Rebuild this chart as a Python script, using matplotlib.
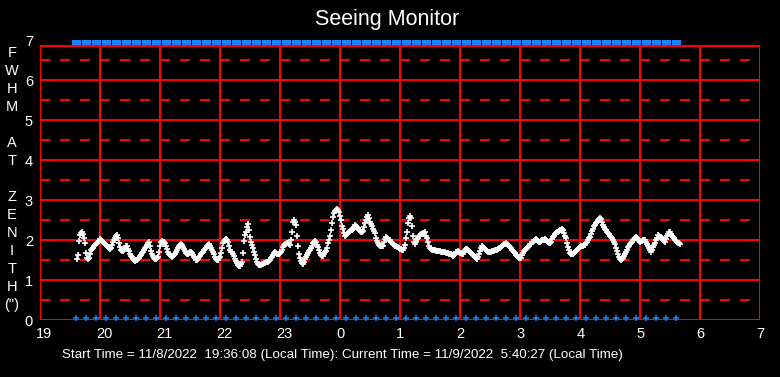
import numpy as np
import matplotlib
matplotlib.use("Agg")
import matplotlib.pyplot as plt
from matplotlib.transforms import ScaledTranslation
from matplotlib.path import Path

plt.rcParams['font.family'] = ['Liberation Sans', 'DejaVu Sans']
plt.rcParams['lines.scale_dashes'] = False

# ---- data ----
start_minute = 37          # minutes after 19:00 of the first white sample (1-minute cadence)
fwhm = [
 1.52, 1.62, 1.97, 2.12, 2.17, 2.2, 2.15, 2.05, 1.93, 1.68, 1.55, 1.52, 1.55, 1.65, 1.75, 1.78,
 1.8, 1.84, 1.87, 1.89, 1.92, 1.95, 1.98, 2.02, 2.0, 1.98, 1.95, 1.92, 1.9, 1.87, 1.85, 1.82,
 1.79, 1.77, 1.8, 1.88, 1.95, 2.0, 2.05, 2.1, 2.12, 2.05, 1.92, 1.83, 1.76, 1.73, 1.72, 1.74,
 1.8, 1.85, 1.86, 1.78, 1.72, 1.66, 1.61, 1.57, 1.53, 1.5, 1.48, 1.49, 1.5, 1.52, 1.56, 1.6,
 1.63, 1.67, 1.71, 1.75, 1.79, 1.83, 1.88, 1.93, 1.96, 1.85, 1.73, 1.65, 1.6, 1.55, 1.52, 1.53,
 1.55, 1.58, 1.7, 1.85, 1.95, 1.97, 1.96, 1.94, 1.92, 1.85, 1.77, 1.71, 1.66, 1.62, 1.59, 1.58,
 1.6, 1.63, 1.66, 1.7, 1.75, 1.8, 1.84, 1.87, 1.89, 1.88, 1.82, 1.77, 1.73, 1.68, 1.66, 1.64,
 1.67, 1.7, 1.71, 1.68, 1.63, 1.58, 1.54, 1.51, 1.5, 1.53, 1.57, 1.61, 1.64, 1.68, 1.71, 1.75,
 1.78, 1.81, 1.84, 1.87, 1.89, 1.85, 1.8, 1.75, 1.7, 1.64, 1.57, 1.52, 1.49, 1.5, 1.54, 1.58,
 1.67, 1.8, 1.92, 1.97, 2.0, 2.02, 2.0, 1.96, 1.85, 1.75, 1.71, 1.69, 1.66, 1.6, 1.53, 1.47,
 1.42, 1.38, 1.35, 1.36, 1.4, 1.44, 1.68, 1.97, 2.12, 2.2, 2.33, 2.4, 2.25, 2.07, 1.95, 1.88,
 1.79, 1.7, 1.62, 1.52, 1.46, 1.4, 1.37, 1.37, 1.38, 1.39, 1.41, 1.42, 1.43, 1.44, 1.45, 1.46,
 1.48, 1.5, 1.54, 1.58, 1.62, 1.67, 1.71, 1.68, 1.66, 1.65, 1.66, 1.67, 1.7, 1.76, 1.82, 1.87,
 1.89, 1.91, 1.92, 1.93, 1.9, 1.88, 2.0, 2.19, 2.45, 2.5, 2.45, 2.38, 2.1, 1.85, 1.65, 1.55,
 1.47, 1.42, 1.4, 1.46, 1.52, 1.58, 1.63, 1.68, 1.72, 1.76, 1.8, 1.86, 1.92, 1.95, 1.97, 1.96,
 1.88, 1.82, 1.74, 1.67, 1.62, 1.6, 1.6, 1.65, 1.69, 1.73, 1.8, 1.92, 2.0, 2.1, 2.25, 2.42,
 2.58, 2.67, 2.72, 2.76, 2.77, 2.74, 2.7, 2.6, 2.5, 2.35, 2.27, 2.17, 2.1, 2.12, 2.15, 2.17,
 2.2, 2.22, 2.24, 2.25, 2.27, 2.33, 2.37, 2.35, 2.32, 2.29, 2.26, 2.22, 2.2, 2.19, 2.22, 2.32,
 2.42, 2.5, 2.58, 2.63, 2.55, 2.46, 2.4, 2.34, 2.28, 2.22, 2.17, 2.05, 1.97, 1.92, 1.88, 1.85,
 1.84, 1.84, 1.85, 1.95, 2.02, 2.08, 2.06, 2.03, 2.0, 1.99, 1.96, 1.93, 1.9, 1.88, 1.86, 1.84,
 1.83, 1.82, 1.8, 1.78, 1.77, 1.76, 1.75, 1.8, 1.88, 2.05, 2.2, 2.42, 2.55, 2.6, 2.55, 2.35,
 2.1, 1.95, 1.9, 1.95, 2.02, 2.06, 2.09, 2.12, 2.14, 2.16, 2.17, 2.18, 2.2, 2.1, 2.04, 1.94,
 1.86, 1.8, 1.78, 1.76, 1.75, 1.74, 1.74, 1.73, 1.73, 1.72, 1.72, 1.72, 1.71, 1.7, 1.7, 1.69,
 1.69, 1.68, 1.68, 1.67, 1.66, 1.65, 1.64, 1.62, 1.6, 1.62, 1.66, 1.69, 1.71, 1.72, 1.7, 1.68,
 1.67, 1.65, 1.64, 1.7, 1.75, 1.78, 1.77, 1.74, 1.72, 1.7, 1.68, 1.66, 1.63, 1.6, 1.57, 1.54,
 1.53, 1.58, 1.65, 1.72, 1.8, 1.84, 1.83, 1.8, 1.77, 1.75, 1.73, 1.71, 1.7, 1.7, 1.71, 1.72,
 1.72, 1.73, 1.74, 1.74, 1.75, 1.77, 1.79, 1.81, 1.83, 1.85, 1.87, 1.89, 1.91, 1.93, 1.9, 1.87,
 1.85, 1.82, 1.79, 1.76, 1.73, 1.7, 1.67, 1.63, 1.6, 1.58, 1.56, 1.55, 1.56, 1.62, 1.68, 1.72,
 1.75, 1.78, 1.81, 1.83, 1.86, 1.89, 1.91, 1.94, 1.96, 1.98, 2.01, 2.03, 2.0, 1.98, 1.96, 1.95,
 1.97, 1.99, 2.0, 2.01, 2.02, 2.0, 1.97, 1.95, 1.93, 1.92, 1.96, 2.02, 2.07, 2.11, 2.14, 2.17,
 2.19, 2.21, 2.23, 2.25, 2.26, 2.27, 2.25, 2.18, 2.1, 2.04, 1.93, 1.83, 1.74, 1.68, 1.65, 1.64,
 1.65, 1.67, 1.69, 1.72, 1.75, 1.78, 1.8, 1.82, 1.84, 1.85, 1.86, 1.87, 1.88, 1.92, 1.96, 2.0,
 2.04, 2.08, 2.15, 2.22, 2.28, 2.34, 2.38, 2.42, 2.46, 2.5, 2.53, 2.55, 2.52, 2.45, 2.38, 2.32,
 2.28, 2.24, 2.2, 2.17, 2.14, 2.11, 2.08, 2.05, 2.0, 1.96, 1.9, 1.8, 1.72, 1.64, 1.57, 1.52,
 1.5, 1.52, 1.56, 1.6, 1.64, 1.7, 1.76, 1.82, 1.86, 1.89, 1.92, 1.95, 1.99, 2.03, 2.06, 2.08,
 2.05, 2.0, 1.97, 1.96, 1.97, 1.98, 1.99, 2.0, 2.0, 1.95, 1.9, 1.86, 1.8, 1.74, 1.71, 1.75,
 1.82, 1.88, 1.93, 1.99, 2.06, 2.12, 2.1, 2.08, 2.07, 2.05, 2.0, 1.97, 1.96, 2.02, 2.1, 2.15,
 2.19, 2.21, 2.15, 2.1, 2.07, 2.04, 2.0, 1.97, 1.95, 1.93, 1.92, 1.91,
]
status_minutes = list(range(36, 637, 10))   # 10-minute status marks (minutes after 19:00)
x_tick_labels = ['19', '20', '21', '22', '23', '0', '1', '2', '3', '4', '5', '6', '7']
y_tick_labels = ['0', '1', '2', '3', '4', '5', '6', '7']
ylabel_lines = ['F', 'W', 'H', 'M', '', 'A', 'T', '', 'Z', 'E', 'N', 'I', 'T', 'H', '(")']
title = 'Seeing Monitor'
footer = 'Start Time = 11/8/2022  19:36:08 (Local Time): Current Time = 11/9/2022  5:40:27 (Local Time)'

# ---- figure ----
W, H = 780, 377
fig = plt.figure(figsize=(W / 100, H / 100), dpi=100, facecolor='black')
ax = fig.add_axes([40 / W, 57 / H, 720 / W, 280 / H], facecolor='black')
ax.set_xlim(19, 31)
ax.set_ylim(0, 7)
for s in ax.spines.values():
    s.set_visible(False)

RED = '#ff0000'
BLUE = '#1a82ff'
frame_top = 6.86
lw = 1.5
# grid / frame
for xv in range(19, 32):
    ax.plot([xv, xv], [0, frame_top], color=RED, lw=lw, solid_capstyle='butt', zorder=1)
for yv in range(0, 7):
    ax.plot([19, 31], [yv, yv], color=RED, lw=lw, solid_capstyle='butt', zorder=1)
ax.plot([19, 31], [frame_top, frame_top], color=RED, lw=lw, solid_capstyle='butt', zorder=1)
for yv in np.arange(0.5, 7, 1.0):
    ax.plot([19, 31], [yv, yv], color=RED, lw=lw, dashes=(7.2, 7.2), solid_capstyle='butt',
            dash_capstyle='butt', zorder=1)

# data
t = 19 + (start_minute + np.arange(len(fwhm))) / 60.0
ax.plot(t, fwhm, linestyle='none', marker='+', color='white', markersize=5.0, mew=1.2, zorder=3)

st = 19 + np.array(status_minutes) / 60.0
ax.plot(st, np.full(len(st), 0.06), linestyle='none', marker='+', color=BLUE,
        markersize=4.2, mew=1.1, zorder=4, clip_on=False)
bar_marker = Path([(-0.8, -0.5), (1.0, -0.5), (1.0, 0.5), (-0.8, 0.5), (-0.8, -0.5)],
                  [Path.MOVETO, Path.LINETO, Path.LINETO, Path.LINETO, Path.CLOSEPOLY])
ax.plot(st, np.full(len(st), 6.94), linestyle='none', marker=bar_marker, color=BLUE,
        markersize=7.2, mew=0, zorder=4, clip_on=False)

# ticks
ax.set_xticks(range(19, 32))
ax.set_xticklabels(x_tick_labels)
ax.set_yticks(range(0, 8))
ax.set_yticklabels(y_tick_labels)
ax.tick_params(length=0, colors='white', labelsize=10.5, pad=5)
for lbl in ax.get_xticklabels():
    lbl.set_ha('left')
    lbl.set_transform(lbl.get_transform() + ScaledTranslation(-3.8 / 100, 0, fig.dpi_scale_trans))

# texts
fig.text(387 / W, 1 - 20 / H, title, ha='center', va='center', color='white', fontsize=15.5)
for i, ch in enumerate(ylabel_lines):
    if ch:
        fig.text(12 / W, 1 - (53 + 18 * i) / H, ch, ha='center', va='center', color='white', fontsize=10.5)
fig.text(62 / W, 1 - 355 / H, footer, ha='left', va='center', color='white', fontsize=9.6)

fig.savefig('out.png', dpi=100, facecolor='black')
